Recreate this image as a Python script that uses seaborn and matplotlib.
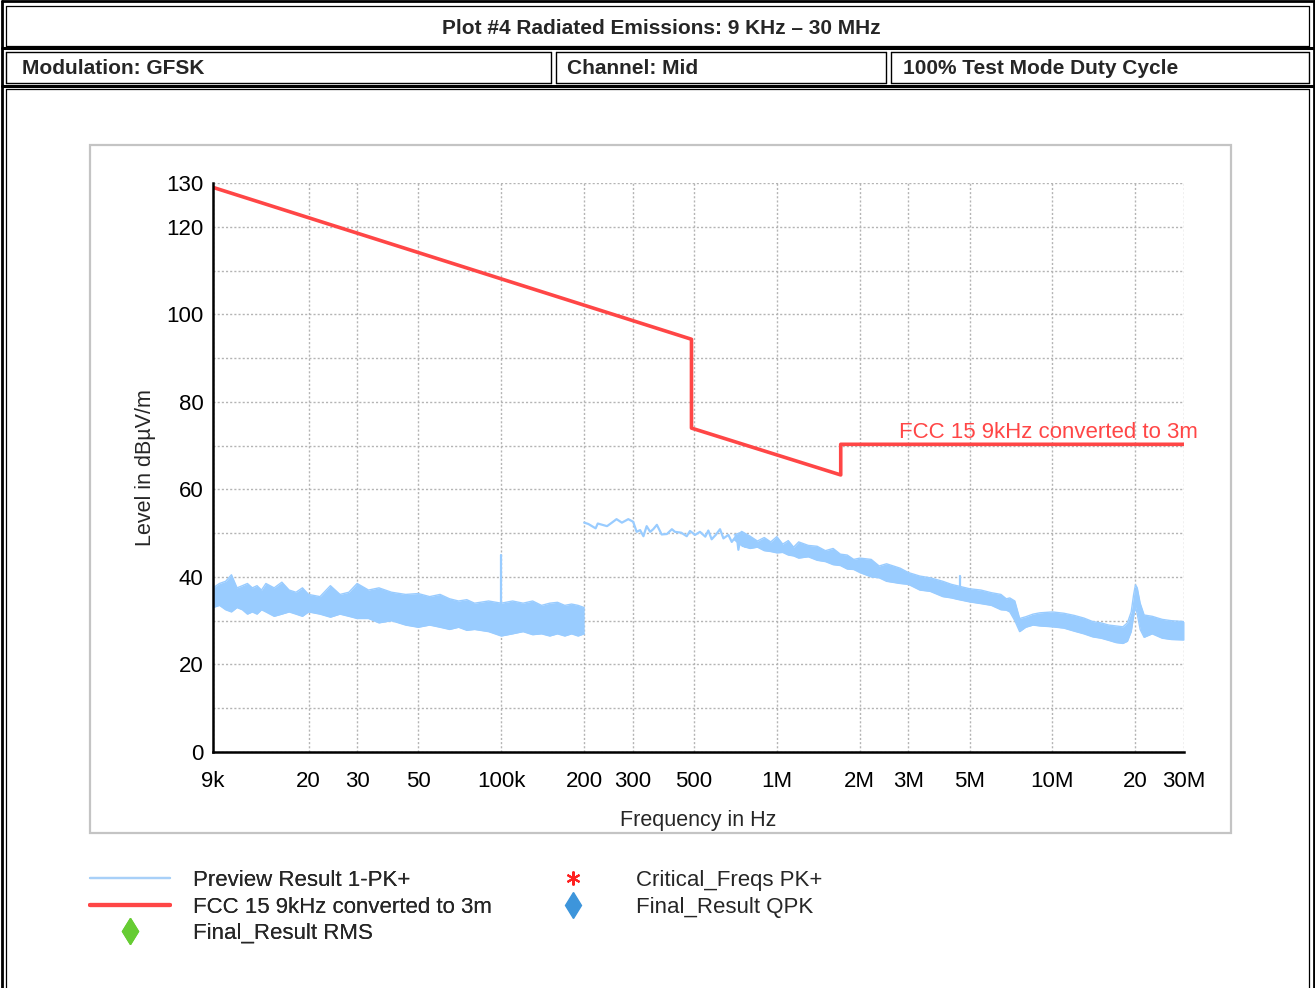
import matplotlib
matplotlib.use("Agg")
import matplotlib.pyplot as plt
import seaborn as sns
import pandas as pd
from matplotlib.lines import Line2D
from matplotlib.patches import Rectangle
import matplotlib.transforms as mtransforms

sns.set_theme(style="white")
plt.rcParams['font.family'] = ['Liberation Sans', 'DejaVu Sans']

# ---------------- data ----------------
limit_freq = [9e3, 490e3, 490e3, 1.705e6, 1.705e6, 30e6]
limit_level = [129.0, 94.3, 74.0, 63.3, 70.3, 70.3]

# Preview Result 1-PK+ : noisy band 9 kHz - 200 kHz (upper / lower envelope)
band1_khz = [9, 9.5, 10, 10.5, 11, 11.5, 12, 12.5, 13, 13.5,
             14, 15, 16, 17, 18, 19, 20, 22, 24, 26,
             28, 30, 33, 36, 40, 45, 50, 55, 60, 65,
             70, 75, 80, 90, 100, 110, 120, 130, 140, 150,
             160, 170, 180, 190, 200]
band1_upper = [37.5, 38.5, 39.0, 40.5, 37.5, 38.0, 38.5, 37.5, 38.0, 37.0,
               38.5, 37.5, 38.8, 37.0, 36.5, 37.5, 36.0, 35.5, 38.0, 36.0,
               36.5, 38.5, 37.0, 37.5, 36.5, 36.0, 36.2, 35.5, 36.0, 35.0,
               34.5, 34.8, 34.0, 34.5, 34.0, 34.5, 34.0, 34.5, 33.5, 34.0,
               34.2, 33.5, 33.8, 33.5, 33.0]
band1_lower = [33.0, 33.5, 32.5, 32.0, 33.0, 32.5, 31.5, 32.0, 31.5, 32.5,
               32.0, 31.0, 31.5, 32.0, 31.5, 31.0, 32.0, 31.5, 30.8, 31.5,
               31.0, 30.5, 30.5, 29.5, 30.0, 29.0, 28.5, 29.0, 28.5, 28.0,
               28.5, 27.8, 28.0, 27.5, 26.5, 27.0, 27.5, 26.8, 27.0, 26.5,
               27.0, 26.5, 27.0, 26.5, 27.0]

# Preview Result 1-PK+ : thin trace 200 kHz - 770 kHz
thin_khz = [200, 207, 220, 224, 242, 252, 262, 274, 289, 301,
            310, 319, 328, 337, 347, 356, 367, 382, 399, 416,
            427, 450, 471, 484, 505, 526, 550, 564, 580, 600,
            622, 640, 667, 686, 715, 725, 745, 767]
thin_level = [52.4, 52.1, 51.1, 52.2, 51.6, 52.4, 53.2, 52.4, 53.2, 52.6,
              50.3, 50.7, 49.3, 51.6, 50.3, 50.9, 51.9, 49.7, 49.8, 50.9,
              50.3, 50.1, 49.3, 50.5, 49.6, 50.3, 49.2, 50.6, 48.6, 49.6,
              50.9, 48.8, 49.6, 48.0, 49.5, 46.2, 50.3, 46.9]

# Preview Result 1-PK+ : noisy band 700 kHz - 30 MHz
band2_khz = [700, 750, 800, 850, 900, 950, 1000, 1050, 1100, 1150,
             1200, 1300, 1400, 1500, 1600, 1700, 1800, 1900, 2000, 2200,
             2350, 2500, 2800, 3000, 3300, 3600, 4000, 4300, 4500, 5000,
             5500, 6000, 6500, 6800, 7000, 7300, 7600, 8000, 8500, 9000,
             10000, 11000, 12000, 13000, 14000, 15000, 16000, 17000, 18000, 18700,
             19300, 19700, 20000, 20300, 20800, 21500, 23000, 25000, 27000, 30000]
band2_upper = [49.6, 50.3, 49.3, 48.2, 49.0, 48.0, 49.2, 47.5, 48.3, 46.8,
               48.0, 47.2, 47.0, 46.0, 46.5, 45.2, 45.0, 44.0, 44.3, 44.0,
               42.5, 43.0, 42.0, 41.0, 40.2, 39.8, 39.0, 38.3, 38.0, 37.3,
               37.0, 36.4, 36.0, 35.0, 35.2, 34.5, 30.5, 30.9, 31.5, 31.8,
               32.0, 31.7, 31.2, 30.6, 29.8, 29.5, 29.0, 28.8, 28.6, 29.5,
               32.0, 36.0, 38.2, 37.5, 34.0, 31.3, 31.0, 30.3, 30.0, 29.8]
band2_lower = [48.5, 47.0, 46.5, 46.8, 46.0, 45.8, 45.5, 45.6, 45.0, 44.8,
               44.3, 44.6, 43.8, 43.5, 42.8, 42.6, 41.8, 41.7, 41.0, 40.0,
               39.8, 39.0, 38.5, 38.3, 37.0, 36.7, 35.5, 35.2, 34.9, 34.3,
               33.9, 33.5, 32.5, 32.4, 32.0, 30.0, 27.5, 28.5, 29.0, 28.8,
               28.6, 28.3, 27.6, 27.0, 26.3, 26.0, 25.5, 25.0, 24.8, 25.3,
               27.5, 31.0, 33.2, 31.5, 28.0, 26.2, 27.0, 26.0, 25.7, 25.6]

# narrow spikes
spike1_khz = [100, 100]
spike1_level = [33.0, 45.0]
spike2_khz = [4620, 4620]
spike2_level = [37.5, 40.2]

x_ticks = [9e3, 2e4, 3e4, 5e4, 1e5, 2e5, 3e5, 5e5, 1e6, 2e6, 3e6, 5e6, 1e7, 2e7, 3e7]
x_labels = ["9k", "20", "30", "50", "100k", "200", "300", "500", "1M", "2M", "3M", "5M", "10M", "20", "30M"]
y_major = [0, 20, 40, 60, 80, 100, 120, 130]
y_minor = [10, 30, 50, 70, 90, 110]

title_text = "Plot #4 Radiated Emissions: 9 KHz \u2013 30 MHz"
cell_texts = ["Modulation: GFSK", "Channel: Mid", "100% Test Mode Duty Cycle"]
limit_name = "FCC 15 9kHz converted to 3m"

# ---------------- figure ----------------
W, H = 1315, 988
fig = plt.figure(figsize=(W / 100, H / 100), dpi=100)
fig.patch.set_facecolor("white")

def fx(x):
    return x / W

def fy(y):
    return 1 - y / H

BLUE = "#99CCFF"
RED = "#FF4646"

# header/frame lines
def hline(y, x0, x1, lw):
    fig.add_artist(Line2D([fx(x0), fx(x1)], [fy(y), fy(y)], color="black", lw=lw))

def vline(x, y0, y1, lw):
    fig.add_artist(Line2D([fx(x), fx(x)], [fy(y0), fy(y1)], color="black", lw=lw))

def rect(x0, y0, x1, y1, lw):
    hline(y0, x0, x1, lw); hline(y1, x0, x1, lw)
    vline(x0, y0, y1, lw); vline(x1, y0, y1, lw)

rect(1.5, 1.5, 1313.5, 995, 2.0)
rect(6, 6, 1309, 46, 0.9)
hline(48.5, 1.5, 1313.5, 2.2)
rect(6, 52, 550.5, 83, 1.0)
rect(555.5, 52, 886, 83, 1.0)
rect(891, 52, 1309, 83, 1.0)
hline(86, 1.5, 1313.5, 2.2)
rect(6, 89, 1309, 995, 0.9)

hdr_font = ['Liberation Sans Narrow', 'Liberation Sans', 'DejaVu Sans']
fig.text(fx(661), fy(28), title_text, ha="center", va="center", fontsize=15,
         fontweight="bold", family=hdr_font)
for xpos, t in zip([22, 567, 903], cell_texts):
    fig.text(fx(xpos), fy(69), t, ha="left", va="center", fontsize=15,
             fontweight="bold", family=hdr_font)

# grey panel around the chart
fig.add_artist(Rectangle((fx(90), fy(833)), fx(1231) - fx(90), fy(145) - fy(833),
                         transform=fig.transFigure, fill=False,
                         edgecolor="#c4c4c4", lw=1.6))

# ---------------- axes ----------------
ax = fig.add_axes([fx(213), fy(752), fx(1184) - fx(213), fy(183) - fy(752)])
ax.set_facecolor("white")
ax.set_xscale("log")

# preview bands
b1 = pd.DataFrame({"f": [v * 1e3 for v in band1_khz], "u": band1_upper, "l": band1_lower})
b2 = pd.DataFrame({"f": [v * 1e3 for v in band2_khz], "u": band2_upper, "l": band2_lower})
for b in (b1, b2):
    ax.fill_between(b["f"], b["l"], b["u"], color=BLUE, lw=0, zorder=3)
    sns.lineplot(data=b, x="f", y="u", ax=ax, color=BLUE, lw=1.0, estimator=None, sort=False, zorder=3)
    sns.lineplot(data=b, x="f", y="l", ax=ax, color=BLUE, lw=1.0, estimator=None, sort=False, zorder=3)

thin = pd.DataFrame({"f": [v * 1e3 for v in thin_khz], "lvl": thin_level})
sns.lineplot(data=thin, x="f", y="lvl", ax=ax, color=BLUE, lw=1.6, estimator=None, sort=False, zorder=3)
for sk, sl in ((spike1_khz, spike1_level), (spike2_khz, spike2_level)):
    sp = pd.DataFrame({"f": [v * 1e3 for v in sk], "lvl": sl})
    sns.lineplot(data=sp, x="f", y="lvl", ax=ax, color=BLUE, lw=1.6, estimator=None, sort=False, zorder=3)

lim = pd.DataFrame({"f": limit_freq, "lvl": limit_level})
sns.lineplot(data=lim, x="f", y="lvl", ax=ax, color=RED, lw=2.6, estimator=None, sort=False, zorder=4)

ax.set_xlim(9e3, 3e7)
ax.set_ylim(0, 130)

ax.set_xticks(x_ticks)
ax.set_xticklabels(x_labels)
ax.xaxis.set_minor_locator(matplotlib.ticker.NullLocator())
ax.set_yticks(y_major)
ax.set_yticks(y_minor, minor=True)

for s in ("top", "right"):
    ax.spines[s].set_visible(False)
for s in ("left", "bottom"):
    ax.spines[s].set_color("black")
    ax.spines[s].set_linewidth(1.8)
    ax.spines[s].set_zorder(5)

ax.tick_params(axis="both", which="both", direction="inout", length=11, width=1.4,
               color="black", labelsize=16, labelcolor="black")
ax.tick_params(axis="x", pad=8)
ax.tick_params(axis="y", pad=1.5)

ax.grid(True, which="both", axis="y", color="#b4b4b4", lw=1.0, linestyle=(0, (1.5, 1.5)))
ax.grid(True, which="major", axis="x", color="#b4b4b4", lw=1.0, linestyle=(0, (1.5, 1.5)))
ax.set_axisbelow(True)

ax.set_xlabel("Frequency in Hz", fontsize=15.5, labelpad=13)
ax.set_ylabel("Level in dB\u00b5V/m", fontsize=15.5, labelpad=7)

trans = mtransforms.blended_transform_factory(ax.transAxes, ax.transData)
ax.text((1198 - 213) / 971, 73.0, limit_name, transform=trans, ha="right", va="center",
        color=RED, fontsize=16, clip_on=False)

# ---------------- legend ----------------
h_prev = Line2D([], [], color="#A8D0F8", lw=1.6)
h_fcc = Line2D([], [], color=RED, lw=3.0)
h_rms = Line2D([], [], color="#66CC33", lw=0, marker="d", markersize=13.5)
h_crit = Line2D([], [], color="#FF2020", lw=0, marker=(6, 2, 0), markersize=10, markeredgewidth=1.5)
h_qpk = Line2D([], [], color="#3D95DB", lw=0, marker="d", markersize=13.5)

common = dict(frameon=False, loc="upper left", fontsize=16, handlelength=3.6,
              handletextpad=1.05, labelspacing=0.25, borderpad=0, borderaxespad=0)
leg1 = fig.legend([h_prev, h_fcc, h_rms],
                  ["Preview Result 1-PK+", limit_name, "Final_Result RMS"],
                  bbox_to_anchor=(fx(90), fy(870)), **common)
fig.add_artist(leg1)
leg2 = fig.legend([h_crit, h_qpk], ["Critical_Freqs PK+", "Final_Result QPK"],
                  bbox_to_anchor=(fx(533), fy(870)), **common)

fig.savefig("out.png", dpi=100, facecolor="white")
